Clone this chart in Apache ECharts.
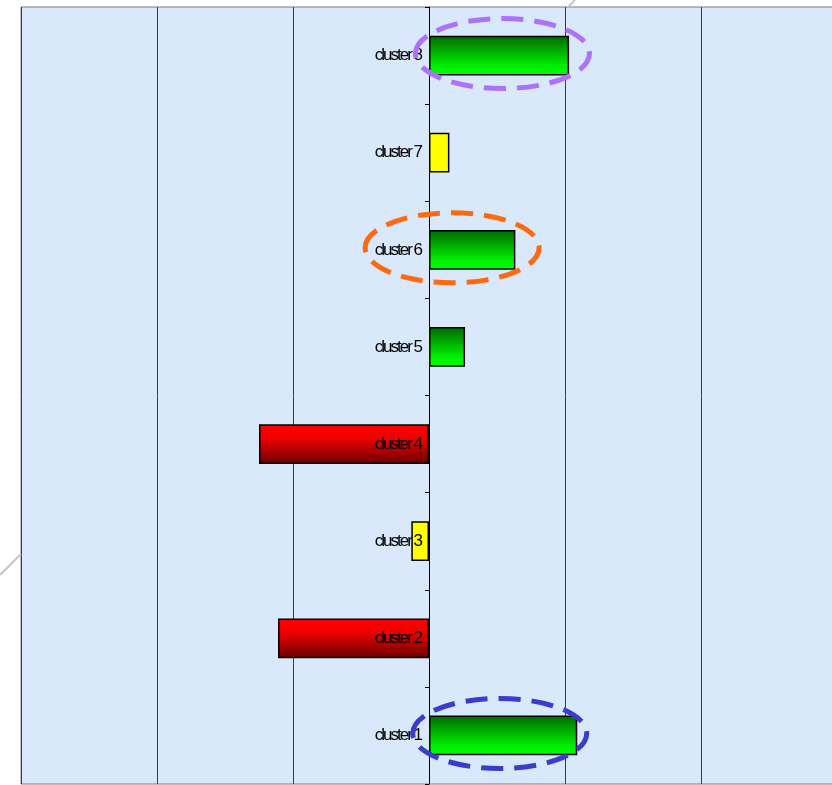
<!DOCTYPE html>
<html>
<head>
<meta charset="utf-8">
<script src="https://cdn.jsdelivr.net/npm/echarts@6/dist/echarts.min.js"></script>
<style>
  html, body { margin: 0; padding: 0; background: #ffffff; }
  #chart { width: 832px; height: 785px; }
</style>
</head>
<body>
<div id="chart"></div>
<script>
// Cluster scores, listed bottom to top
const categories = ['cluster 1', 'cluster 2', 'cluster 3', 'cluster 4', 'cluster 5', 'cluster 6', 'cluster 7', 'cluster 8'];
const scores = [1.09, -1.11, -0.13, -1.25, 0.265, 0.635, 0.15, 1.03];
// Bar colour class per cluster: g = green, r = red, y = yellow
const tones = ['g', 'r', 'y', 'r', 'g', 'g', 'y', 'g'];
// Highlighted clusters (dashed rings) and the score each ring is centred on
const ringCats = ['cluster 8', 'cluster 6', 'cluster 1'];
const ringCentres = [0.54, 0.17, 0.52];
const ringColors = ['#ad72fa', '#ff6a10', '#3a3ccc'];

const greenFill = {
  type: 'linear', x: 0, y: 0, x2: 0, y2: 1,
  colorStops: [{ offset: 0, color: '#006800' }, { offset: 0.75, color: '#00ee00' }, { offset: 1, color: '#00ff00' }]
};
const redFill = {
  type: 'linear', x: 0, y: 0, x2: 0, y2: 1,
  colorStops: [{ offset: 0, color: '#ff0000' }, { offset: 0.35, color: '#f00000' }, { offset: 1, color: '#6a0000' }]
};
const fills = { g: greenFill, r: redFill, y: '#ffff00' };

// Tightly tracked category labels, set character by character at the zero line
const labelFont = '17px "Liberation Sans", Arial, sans-serif';
const tracking = -2;
const measureCtx = document.createElement('canvas').getContext('2d');
measureCtx.font = labelFont;

function renderClusterLabel(params, api) {
  const idx = api.value(1);
  const pt = api.coord([api.value(0), idx]);
  const text = categories[idx];
  const widths = Array.from(text).map(ch => measureCtx.measureText(ch).width);
  const total = widths.reduce((a, b) => a + b, 0) + tracking * (widths.length - 1);
  let x = pt[0] - 6 - total;
  const children = [];
  Array.from(text).forEach((ch, k) => {
    children.push({
      type: 'text',
      x: x, y: pt[1],
      style: { text: ch, font: labelFont, fill: '#000000', align: 'left', verticalAlign: 'middle' }
    });
    x += widths[k] + tracking;
  });
  return { type: 'group', children: children };
}

const chart = echarts.init(document.getElementById('chart'));

chart.setOption({
  animation: false,
  backgroundColor: '#ffffff',
  grid: {
    left: 21, top: 7, right: -5, bottom: 1,
    containLabel: false,
    outerBoundsMode: 'none',
    show: true,
    backgroundColor: '#d9e8fa',
    borderColor: '#7a7a7a',
    borderWidth: 1
  },
  xAxis: {
    type: 'value',
    min: -3, max: 3, interval: 1,
    axisLabel: { show: false },
    axisLine: { show: false },
    axisTick: { show: false },
    splitLine: { show: true, lineStyle: { color: '#3c3c3c', width: 1 } }
  },
  yAxis: {
    type: 'category',
    data: categories,
    axisLine: { onZero: true, lineStyle: { color: '#000000', width: 1 } },
    axisTick: { show: true, length: 4, lineStyle: { color: '#000000' } },
    axisLabel: { show: false },
    splitLine: { show: false }
  },
  series: [{
    type: 'bar',
    barWidth: '41%',
    data: scores.map((v, i) => ({
      value: v,
      itemStyle: { color: fills[tones[i]], borderColor: '#000000', borderWidth: 1.5 }
    }))
  }, {
    type: 'custom',
    z: 5,
    silent: true,
    renderItem: renderClusterLabel,
    encode: { x: 0, y: 1 },
    data: categories.map((c, i) => [0, i])
  }],
  graphic: []
});

// Dashed rings around the highlighted clusters, placed through the axes
const rings = ringCats.map((cat, i) => {
  const p = chart.convertToPixel({ gridIndex: 0 }, [ringCentres[i], cat]);
  return {
    type: 'ellipse',
    shape: { cx: p[0], cy: p[1] - 2, rx: 87, ry: 35 },
    style: { fill: null, stroke: ringColors[i], lineWidth: 5, lineDash: [22, 11] },
    z: 100
  };
});
chart.setOption({
  graphic: [
    // faint diagonal stroke showing around the outside of the plot frame
    { type: 'line', shape: { x1: 0, y1: 575, x2: 21, y2: 554 }, style: { stroke: '#c4c4c4', lineWidth: 2 }, z: 1 },
    { type: 'line', shape: { x1: 568, y1: 7, x2: 575, y2: 0 }, style: { stroke: '#c4c4c4', lineWidth: 2 }, z: 1 }
  ].concat(rings)
}, { replaceMerge: ['graphic'] });
</script>
</body>
</html>
